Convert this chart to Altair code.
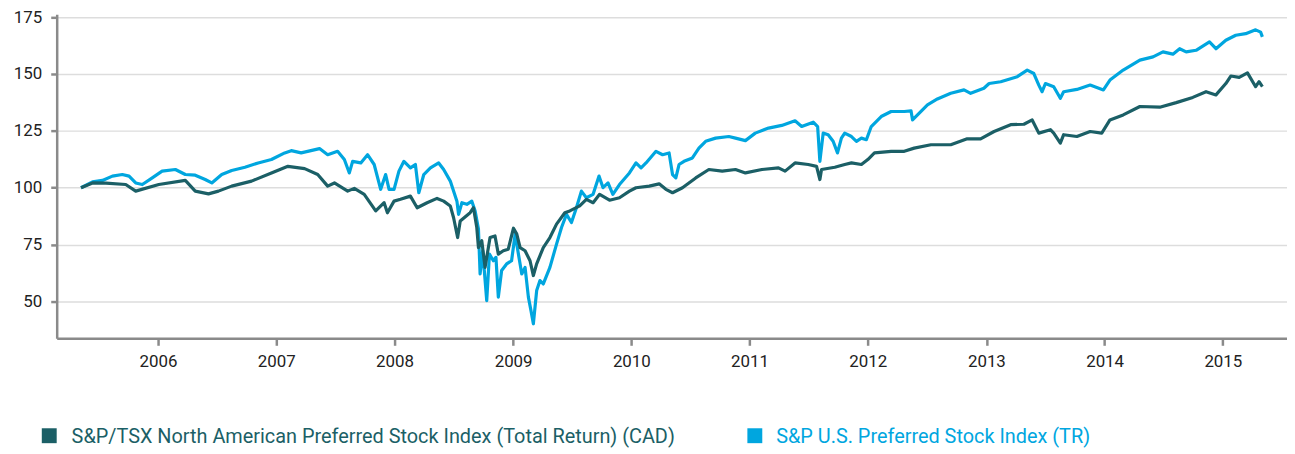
import altair as alt
import pandas as pd

# ---- data (decimal year, index value) ----
tsx_t = [2005.348, 2005.445, 2005.558, 2005.726, 2005.810, 2006.006, 2006.230, 2006.314, 2006.426, 2006.510,
         2006.622, 2006.790, 2006.958, 2007.098, 2007.239, 2007.350, 2007.434, 2007.491, 2007.603, 2007.659,
         2007.743, 2007.840, 2007.911, 2007.939, 2007.995, 2008.050, 2008.134, 2008.191, 2008.275, 2008.359,
         2008.415, 2008.471, 2008.499, 2008.533, 2008.555, 2008.639, 2008.667, 2008.695, 2008.709, 2008.737,
         2008.765, 2008.807, 2008.849, 2008.877, 2008.919, 2008.961, 2009.003, 2009.031, 2009.059, 2009.101,
         2009.143, 2009.171, 2009.199, 2009.255, 2009.311, 2009.367, 2009.437, 2009.479, 2009.563, 2009.619,
         2009.676, 2009.731, 2009.815, 2009.899, 2009.983, 2010.039, 2010.151, 2010.235, 2010.292, 2010.348,
         2010.432, 2010.544, 2010.655, 2010.768, 2010.880, 2010.964, 2011.104, 2011.244, 2011.300, 2011.384,
         2011.496, 2011.566, 2011.594, 2011.608, 2011.720, 2011.804, 2011.861, 2011.945, 2012.000, 2012.056,
         2012.197, 2012.308, 2012.392, 2012.533, 2012.701, 2012.840, 2012.953, 2013.065, 2013.205, 2013.317,
         2013.387, 2013.443, 2013.541, 2013.569, 2013.625, 2013.653, 2013.765, 2013.877, 2013.975, 2014.045,
         2014.157, 2014.298, 2014.466, 2014.605, 2014.745, 2014.857, 2014.941, 2015.025, 2015.067, 2015.138,
         2015.208, 2015.277, 2015.306, 2015.334]
tsx_v = [100.0, 102.1, 102.0, 101.4, 98.5, 101.4, 103.2, 98.5, 97.3, 98.5,
         100.7, 102.9, 106.5, 109.4, 108.4, 105.8, 100.7, 102.1, 98.5, 99.7,
         97.1, 89.8, 93.4, 89.0, 94.1, 94.9, 96.3, 91.2, 93.4, 95.3,
         94.1, 92.0, 86.8, 78.1, 85.4, 89.0, 91.2, 82.5, 73.7, 76.7,
         65.0, 78.1, 78.8, 70.8, 72.3, 73.0, 82.2, 79.6, 73.7, 72.3,
         67.9, 61.4, 66.5, 73.7, 78.1, 84.0, 89.0, 89.8, 92.0, 94.9,
         93.4, 97.1, 94.5, 95.6, 98.5, 100.0, 100.7, 101.7, 99.3, 97.8,
         100.0, 104.3, 108.0, 107.3, 108.0, 106.5, 108.0, 108.7, 107.3, 110.9,
         110.2, 109.4, 103.6, 108.0, 109.0, 110.2, 110.9, 110.2, 112.4, 115.3,
         116.0, 116.0, 117.4, 118.9, 118.9, 121.5, 121.5, 124.7, 127.7, 127.9,
         129.8, 124.0, 125.5, 124.0, 119.6, 123.3, 122.5, 124.7, 124.0, 129.8,
         132.0, 135.7, 135.4, 137.4, 139.7, 142.2, 140.8, 145.8, 149.1, 148.5,
         150.5, 144.4, 146.6, 144.4]

us_t = [2005.348, 2005.445, 2005.529, 2005.613, 2005.697, 2005.754, 2005.810, 2005.866, 2005.950, 2006.034,
        2006.146, 2006.230, 2006.314, 2006.398, 2006.454, 2006.538, 2006.622, 2006.734, 2006.846, 2006.958,
        2007.071, 2007.126, 2007.210, 2007.365, 2007.434, 2007.518, 2007.575, 2007.617, 2007.645, 2007.714,
        2007.771, 2007.827, 2007.882, 2007.924, 2007.953, 2007.995, 2008.037, 2008.079, 2008.134, 2008.176,
        2008.205, 2008.247, 2008.303, 2008.373, 2008.415, 2008.471, 2008.527, 2008.541, 2008.569, 2008.611,
        2008.653, 2008.681, 2008.709, 2008.723, 2008.745, 2008.779, 2008.802, 2008.835, 2008.857, 2008.877,
        2008.905, 2008.947, 2008.989, 2009.017, 2009.045, 2009.073, 2009.101, 2009.129, 2009.151, 2009.171,
        2009.199, 2009.227, 2009.255, 2009.311, 2009.367, 2009.409, 2009.451, 2009.493, 2009.535, 2009.577,
        2009.619, 2009.676, 2009.726, 2009.760, 2009.802, 2009.843, 2009.899, 2009.983, 2010.039, 2010.082,
        2010.124, 2010.208, 2010.264, 2010.319, 2010.348, 2010.376, 2010.403, 2010.445, 2010.516, 2010.571,
        2010.628, 2010.712, 2010.824, 2010.880, 2010.964, 2011.048, 2011.160, 2011.272, 2011.384, 2011.440,
        2011.538, 2011.575, 2011.594, 2011.622, 2011.664, 2011.706, 2011.743, 2011.776, 2011.804, 2011.861,
        2011.903, 2011.945, 2011.987, 2012.029, 2012.113, 2012.197, 2012.308, 2012.365, 2012.378, 2012.420,
        2012.504, 2012.588, 2012.701, 2012.813, 2012.869, 2012.981, 2013.023, 2013.121, 2013.261, 2013.345,
        2013.401, 2013.443, 2013.471, 2013.499, 2013.569, 2013.625, 2013.653, 2013.765, 2013.877, 2013.989,
        2014.045, 2014.157, 2014.298, 2014.409, 2014.493, 2014.577, 2014.634, 2014.689, 2014.773, 2014.886,
        2014.941, 2015.025, 2015.109, 2015.193, 2015.277, 2015.319, 2015.334]
us_v = [100.0, 102.6, 103.2, 105.1, 105.8, 105.1, 102.1, 101.4, 104.3, 107.3,
        108.0, 105.8, 105.5, 103.6, 102.1, 105.8, 107.6, 109.0, 110.9, 112.4,
        115.3, 116.3, 115.3, 117.2, 114.5, 116.0, 112.4, 106.5, 111.6, 110.9,
        114.5, 110.2, 99.3, 105.8, 99.3, 99.3, 107.3, 111.6, 108.7, 110.2,
        97.8, 105.8, 108.7, 110.9, 108.0, 102.9, 94.1, 88.3, 93.4, 92.7,
        94.1, 89.8, 81.8, 62.1, 72.3, 50.4, 70.8, 67.9, 69.4, 51.9,
        63.6, 66.5, 67.9, 79.6, 70.8, 62.1, 65.0, 51.9, 46.0, 40.2,
        54.8, 59.2, 57.7, 65.0, 75.2, 82.5, 88.3, 84.7, 91.2, 98.5,
        95.6, 97.1, 105.1, 100.0, 102.1, 97.1, 101.4, 106.5, 110.9, 108.7,
        110.9, 116.0, 114.5, 115.3, 105.8, 104.3, 110.2, 111.6, 113.1, 117.4,
        120.4, 121.8, 122.5, 121.8, 120.7, 124.0, 126.2, 127.4, 129.4, 126.9,
        128.8, 126.9, 111.6, 124.0, 123.3, 120.4, 115.3, 121.8, 124.0, 122.5,
        120.4, 121.8, 121.1, 126.9, 131.3, 133.5, 133.5, 133.8, 129.8, 132.0,
        136.4, 139.0, 141.5, 143.0, 141.5, 143.7, 145.8, 146.6, 148.8, 151.7,
        150.2, 145.1, 142.2, 145.8, 144.4, 139.3, 142.2, 143.2, 145.1, 143.0,
        147.3, 151.7, 156.1, 157.5, 159.7, 158.7, 161.1, 159.7, 160.4, 164.1,
        161.1, 164.8, 167.0, 167.7, 169.4, 168.4, 166.3]

series_names = ["S&P/TSX North American Preferred Stock Index (Total Return) (CAD)",
                "S&P U.S. Preferred Stock Index (TR)"]
series_colors = ["#1b5f66", "#00a6df"]
year_ticks = list(range(2006, 2016))
y_ticks = [50, 75, 100, 125, 150, 175]
y_domain = [33.8, 176.2]
x_domain = [(2005, 2, 22), (2015, 7, 18)]

FONT = "Roboto"


def to_date(t):
    y = int(t)
    return pd.Timestamp(year=y, month=1, day=1) + pd.Timedelta(days=(t - y) * 365.25)


df = pd.concat([
    pd.DataFrame({"date": [to_date(t) for t in us_t], "value": us_v, "series": series_names[1]}),
    pd.DataFrame({"date": [to_date(t) for t in tsx_t], "value": tsx_v, "series": series_names[0]}),
])

x_enc = alt.X(
    "date:T",
    scale=alt.Scale(domain=[alt.DateTime(year=a, month=b, date=c) for a, b, c in x_domain]),
    axis=alt.Axis(
        values=[alt.DateTime(year=y, month=1, date=1) for y in year_ticks],
        format="%Y", title=None, grid=False, tickSize=7, labelPadding=8,
    ),
)
y_enc = alt.Y(
    "value:Q",
    scale=alt.Scale(domain=y_domain, nice=False, zero=False),
    axis=alt.Axis(values=y_ticks, title=None, grid=True, tickSize=6, labelPadding=9),
)

lines = alt.Chart(df).mark_line(strokeWidth=3.2, strokeJoin="round").encode(
    x=x_enc,
    y=y_enc,
    color=alt.Color("series:N", scale=alt.Scale(domain=series_names, range=series_colors), legend=None),
)

# teal drawn on top of blue
blue = lines.transform_filter(alt.datum.series == series_names[1])
teal = lines.transform_filter(alt.datum.series == series_names[0])

legend_layers = []
legend_pos = [(-7.5, 15), (702.5, 724)]
for name, col, (sx, tx) in zip(series_names, series_colors, legend_pos):
    ld = pd.DataFrame({"name": [name]})
    legend_layers.append(
        alt.Chart(ld).mark_square(size=225, color=col, opacity=1).encode(
            x=alt.value(sx), y=alt.value(424)
        )
    )
    legend_layers.append(
        alt.Chart(ld).mark_text(align="left", baseline="middle", font=FONT, fontSize=20, color=col).encode(
            x=alt.value(tx), y=alt.value(425), text="name:N"
        )
    )

chart = alt.layer(blue, teal, *legend_layers).properties(
    width=1238, height=326,
    autosize=alt.AutoSizeParams(type="none"),
    padding={"left": 49, "top": 5, "right": 0, "bottom": 115},
).configure_view(stroke=None).configure_axis(
    labelFont=FONT, labelFontSize=17, labelColor="#222222",
    domainColor="#8a8a8a", domainWidth=2.5,
    tickColor="#8a8a8a", tickWidth=2.5,
    gridColor="#dddddd", gridWidth=1.5,
)

chart.save("out.html", embed_options={"renderer": "svg", "actions": False})
